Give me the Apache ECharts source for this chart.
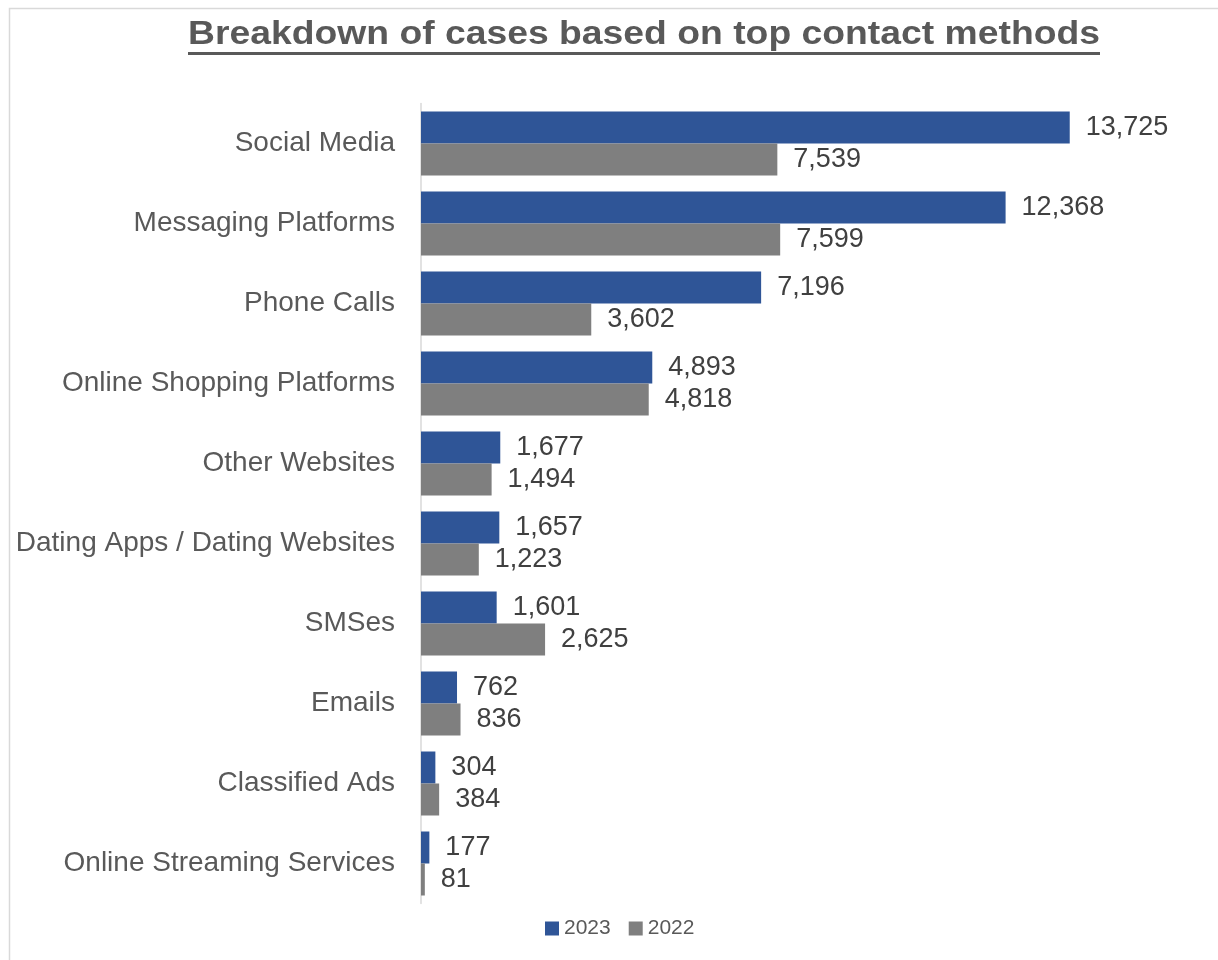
<!DOCTYPE html>
<html>
<head>
<meta charset="utf-8">
<script src="https://cdn.jsdelivr.net/npm/echarts@6/dist/echarts.min.js"></script>
<style>
  html, body { margin: 0; padding: 0; background: #ffffff; }
  #chart { width: 1218px; height: 960px; }
</style>
</head>
<body>
<div id="chart"></div>
<script>
// Contact methods, listed from the top of the chart down
const categories = [
  'Social Media',
  'Messaging Platforms',
  'Phone Calls',
  'Online Shopping Platforms',
  'Other Websites',
  'Dating Apps / Dating Websites',
  'SMSes',
  'Emails',
  'Classified Ads',
  'Online Streaming Services'
];
const cases2023 = [13725, 12368, 7196, 4893, 1677, 1657, 1601, 762, 304, 177];
const cases2022 = [7539, 7599, 3602, 4818, 1494, 1223, 2625, 836, 384, 81];
const seriesNames = ['2023', '2022'];
const titleText = 'Breakdown of cases based on top contact methods';

const FONT = '"Liberation Sans", Arial, Helvetica, sans-serif';
const TITLE_SIZE = 33;
const TITLE_CX = 644;
const TITLE_W = 912;   // drawn width of the stretched title

// Measure the title so it can be stretched to its box and underlined
const ctx = document.createElement('canvas').getContext('2d');
ctx.font = 'bold ' + TITLE_SIZE + 'px ' + FONT;
const naturalW = ctx.measureText(titleText).width;
const titleScaleX = TITLE_W / naturalW;

const fmt = v => v.toLocaleString('en-US');

const chart = echarts.init(document.getElementById('chart'), null, { renderer: 'canvas' });

const valueLabel = {
  show: true,
  position: 'right',
  distance: 16,
  color: '#404040',
  fontSize: 27,
  fontFamily: FONT,
  formatter: p => fmt(p.value)
};

chart.setOption({
  animation: false,
  backgroundColor: '#ffffff',
  graphic: [
    {
      type: 'rect',
      shape: { x: 9.5, y: 8.5, width: 1400, height: 1200 },
      style: { fill: 'none', stroke: '#d9d9d9', lineWidth: 1.5 },
      silent: true
    },
    {
      type: 'text',
      x: TITLE_CX,
      y: 34.6,
      scaleX: titleScaleX,
      style: {
        text: titleText,
        fill: '#595959',
        font: 'bold ' + TITLE_SIZE + 'px ' + FONT,
        textAlign: 'center',
        textVerticalAlign: 'middle'
      }
    },
    {
      type: 'rect',
      shape: { x: TITLE_CX - TITLE_W / 2, y: 52, width: TITLE_W, height: 3 },
      style: { fill: '#595959' },
      silent: true
    }
  ],
  legend: {
    data: seriesNames,
    left: 545,
    top: 918,
    padding: 0,
    itemWidth: 14,
    itemHeight: 14,
    itemGap: 18,
    icon: 'rect',
    textStyle: { color: '#595959', fontSize: 21, fontFamily: FONT }
  },
  grid: {
    left: 421,
    top: 103.5,
    width: 709,
    height: 800,
    containLabel: false
  },
  xAxis: {
    type: 'value',
    min: 0,
    max: 15000,
    axisLine: { show: false },
    axisTick: { show: false },
    axisLabel: { show: false },
    splitLine: { show: false }
  },
  yAxis: {
    type: 'category',
    data: categories,
    inverse: true,
    axisLine: { show: true, lineStyle: { color: '#d9d9d9', width: 1.5 } },
    axisTick: { show: false },
    axisLabel: {
      color: '#595959',
      fontSize: 28,
      fontFamily: FONT,
      margin: 26
    }
  },
  series: [
    {
      name: seriesNames[0],
      type: 'bar',
      data: cases2023,
      itemStyle: { color: '#2f5597' },
      barGap: '0%',
      barCategoryGap: '20%',
      label: valueLabel
    },
    {
      name: seriesNames[1],
      type: 'bar',
      data: cases2022,
      itemStyle: { color: '#7f7f7f' },
      barGap: '0%',
      barCategoryGap: '20%',
      label: valueLabel
    }
  ]
});
</script>
</body>
</html>
